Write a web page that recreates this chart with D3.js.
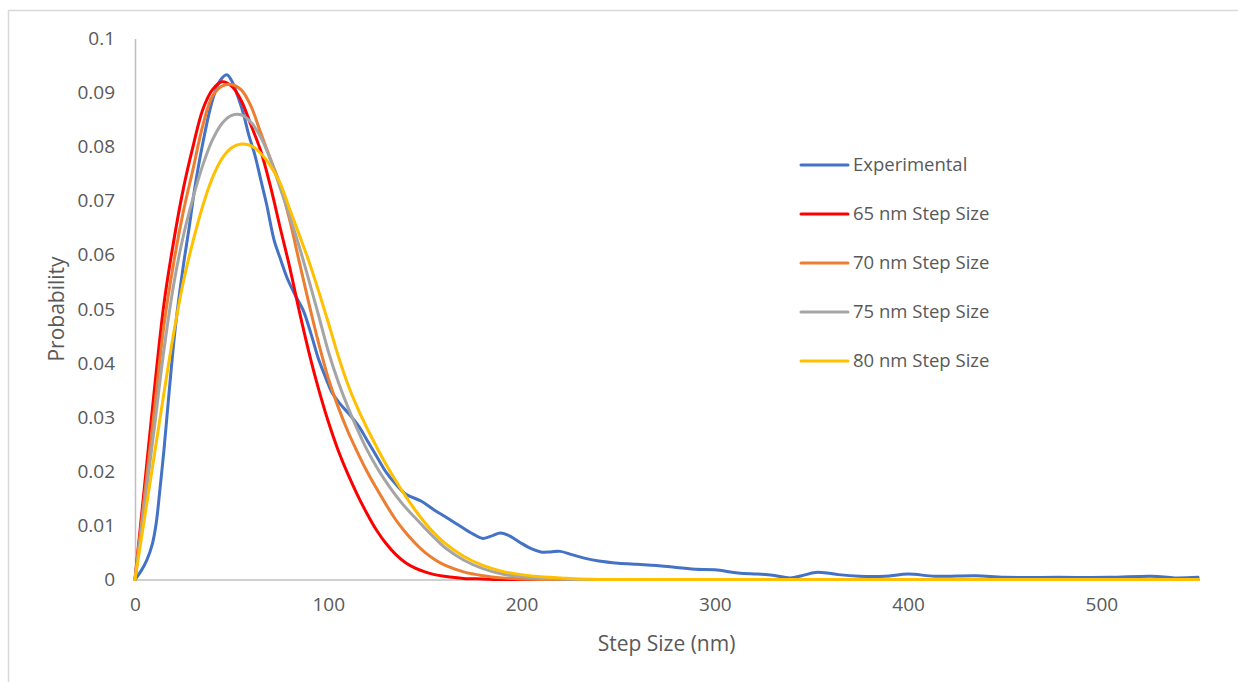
<!DOCTYPE html>
<html>
<head>
<meta charset="utf-8">
<script src="https://cdn.jsdelivr.net/npm/d3@7"></script>
<style>
  html, body { margin: 0; padding: 0; background: #ffffff; }
  svg { display: block; }
  text { font-family: "Open Sans", "Noto Sans", sans-serif; fill: #595959; }
</style>
</head>
<body>
<svg id="chart" width="1238" height="682"></svg>
<script>
// ---------- DATA ----------
const seriesNames = ["Experimental", "65 nm Step Size", "70 nm Step Size", "75 nm Step Size", "80 nm Step Size"];
const seriesColors = ["#4472C4", "#FF0000", "#ED7D31", "#A5A5A5", "#FFC000"];

const xTicks = [0, 100, 200, 300, 400, 500];
const yTicks = [0, 0.01, 0.02, 0.03, 0.04, 0.05, 0.06, 0.07, 0.08, 0.09, 0.1];
const yTickLabels = ["0", "0.01", "0.02", "0.03", "0.04", "0.05", "0.06", "0.07", "0.08", "0.09", "0.1"];

// Experimental curve (step size in nm, probability)
const expX = [0, 3, 6, 9, 11, 13, 15, 18, 21, 25, 28, 31, 35, 40, 44, 47.5, 50, 53, 56, 59, 62, 65, 68, 72, 75, 79, 83, 87, 91, 95, 99, 102, 106, 111, 116, 120, 125, 130, 135, 140, 148, 155, 161, 169, 175, 180, 185, 189, 193, 199, 205, 210, 215, 220, 226, 233, 240, 250, 260, 270, 280, 290, 300, 312, 322, 330, 339, 345, 352, 358, 364, 375, 388, 400, 414, 435, 450, 478, 504, 526, 538, 550];
const expY = [0, 0.0015, 0.0035, 0.0066, 0.0105, 0.017, 0.024, 0.036, 0.047, 0.058, 0.065, 0.0725, 0.0805, 0.0885, 0.0922, 0.0933, 0.0922, 0.0895, 0.0862, 0.082, 0.0785, 0.074, 0.0695, 0.0627, 0.0595, 0.0555, 0.0525, 0.0498, 0.0455, 0.0407, 0.037, 0.0345, 0.0325, 0.0305, 0.0282, 0.0258, 0.0228, 0.0198, 0.0176, 0.0158, 0.0145, 0.0128, 0.0115, 0.0097, 0.0084, 0.0076, 0.0081, 0.0086, 0.0082, 0.0069, 0.0057, 0.0051, 0.0051, 0.0052, 0.0046, 0.0039, 0.0034, 0.003, 0.0028, 0.0026, 0.0022, 0.0019, 0.0018, 0.0012, 0.001, 0.0008, 0.0003, 0.0007, 0.0013, 0.0012, 0.0009, 0.0006, 0.0006, 0.001, 0.0006, 0.0007, 0.0004, 0.0004, 0.0004, 0.0006, 0.0003, 0.0004];

// Model curves share one grid of step sizes (nm)
const modelX = [0, 5, 10, 15, 20, 25, 30, 35, 40, 45, 50, 55, 60, 65, 70, 75, 80, 85, 90, 95, 100, 105, 110, 115, 120, 125, 130, 135, 140, 145, 150, 155, 160, 170, 180, 190, 200, 210, 220, 230, 240, 250, 300, 400, 500, 550];
const step65 = [0, 0.0175, 0.035, 0.051, 0.0625, 0.0722, 0.08, 0.0868, 0.0905, 0.092, 0.0912, 0.0885, 0.084, 0.0793, 0.0728, 0.0652, 0.0578, 0.0496, 0.042, 0.0352, 0.0292, 0.024, 0.0196, 0.0157, 0.0122, 0.0091, 0.0066, 0.0046, 0.0031, 0.0021, 0.0014, 0.0009, 0.0006, 0.0002, 0.0001, 0, 0, 0, 0, 0, 0, 0, 0, 0, 0, 0];
const step70 = [0, 0.0157, 0.0313, 0.047, 0.0585, 0.068, 0.0758, 0.0838, 0.0893, 0.0912, 0.0915, 0.0905, 0.0875, 0.0826, 0.0778, 0.073, 0.0665, 0.0587, 0.0510, 0.0437, 0.0372, 0.0320, 0.0275, 0.0236, 0.02, 0.0168, 0.0138, 0.011, 0.0087, 0.0067, 0.005, 0.0037, 0.0027, 0.0014, 0.0007, 0.0003, 0.0001, 0, 0, 0, 0, 0, 0, 0, 0, 0];
const step75 = [0, 0.014, 0.028, 0.0425, 0.0545, 0.0635, 0.0705, 0.0765, 0.0812, 0.0843, 0.0858, 0.0859, 0.0845, 0.0818, 0.0777, 0.0725, 0.0672, 0.0615, 0.0553, 0.0488, 0.0422, 0.0367, 0.032, 0.0278, 0.024, 0.0208, 0.018, 0.0155, 0.0133, 0.0114, 0.0095, 0.0077, 0.006, 0.0036, 0.002, 0.001, 0.0005, 0.0002, 0.0001, 0, 0, 0, 0, 0, 0, 0];
const step80 = [0, 0.0115, 0.023, 0.0345, 0.0455, 0.055, 0.0625, 0.069, 0.0742, 0.0778, 0.0798, 0.0805, 0.0802, 0.0788, 0.0765, 0.0733, 0.0685, 0.0637, 0.0588, 0.0533, 0.0475, 0.0415, 0.0362, 0.0318, 0.028, 0.0245, 0.0212, 0.0182, 0.0154, 0.0128, 0.0105, 0.0085, 0.0068, 0.0043, 0.0026, 0.0015, 0.0009, 0.0005, 0.0003, 0.0001, 0, 0, 0, 0, 0, 0];

// ---------- CHART ----------
const svg = d3.select("#chart");

// outer chart border
svg.append("rect")
  .attr("x", 8.5).attr("y", 10.5)
  .attr("width", 1240).attr("height", 690)
  .attr("fill", "none").attr("stroke", "#D9D9D9").attr("stroke-width", 1.5);

const x = d3.scaleLinear().domain([0, 550]).range([135, 1198]);
const y = d3.scaleLinear().domain([0, 0.1]).range([579.5, 38.5]);

// y axis
const yAxis = d3.axisLeft(y).tickValues(yTicks)
  .tickFormat((d, i) => yTickLabels[i]).tickSize(0).tickPadding(20);
const gy = svg.append("g").attr("transform", `translate(${x(0)},0)`).call(yAxis);
gy.select(".domain").attr("stroke", "#BFBFBF").attr("stroke-width", 1.5);
gy.selectAll("text").style("font-size", "19px").attr("fill", "#595959")
  .style("font-family", "'Open Sans', sans-serif");

// x axis
const xAxis = d3.axisBottom(x).tickValues(xTicks).tickFormat(d3.format("d"))
  .tickSize(0).tickPadding(18);
const gx = svg.append("g").attr("transform", `translate(0,${y(0)})`).call(xAxis);
gx.select(".domain").attr("stroke", "#BFBFBF").attr("stroke-width", 1.5);
gx.selectAll("text").style("font-size", "19px").attr("fill", "#595959")
  .style("font-family", "'Open Sans', sans-serif");

// axis titles
svg.append("text")
  .attr("x", (x(0) + x(550)) / 2).attr("y", 651)
  .attr("text-anchor", "middle").style("font-size", "21px")
  .text("Step Size (nm)");
svg.append("text")
  .attr("transform", `translate(64,${(y(0) + y(0.1)) / 2}) rotate(-90)`)
  .attr("text-anchor", "middle").style("font-size", "21px")
  .text("Probability");

// lines
const line = d3.line()
  .x(d => x(d[0])).y(d => y(d[1]))
  .curve(d3.curveCatmullRom.alpha(0.5));

const seriesData = [
  d3.zip(expX, expY),
  d3.zip(modelX, step65),
  d3.zip(modelX, step70),
  d3.zip(modelX, step75),
  d3.zip(modelX, step80)
];

svg.append("g").selectAll("path")
  .data(seriesData)
  .join("path")
  .attr("d", line)
  .attr("fill", "none")
  .attr("stroke", (d, i) => seriesColors[i])
  .attr("stroke-width", 3)
  .attr("stroke-linejoin", "round")
  .attr("stroke-linecap", "round");

// legend
const legendY = d3.scalePoint().domain(seriesNames).range([165, 361]);
const lg = svg.append("g");
const items = lg.selectAll("g").data(seriesNames).join("g")
  .attr("transform", d => `translate(0,${legendY(d)})`);
items.append("line")
  .attr("x1", 801).attr("x2", 848).attr("y1", 0).attr("y2", 0)
  .attr("stroke", (d, i) => seriesColors[i]).attr("stroke-width", 3)
  .attr("stroke-linecap", "round");
items.append("text")
  .attr("x", 853).attr("y", 0).attr("dy", "0.35em")
  .style("font-size", "18.5px")
  .text(d => d);
</script>
</body>
</html>
